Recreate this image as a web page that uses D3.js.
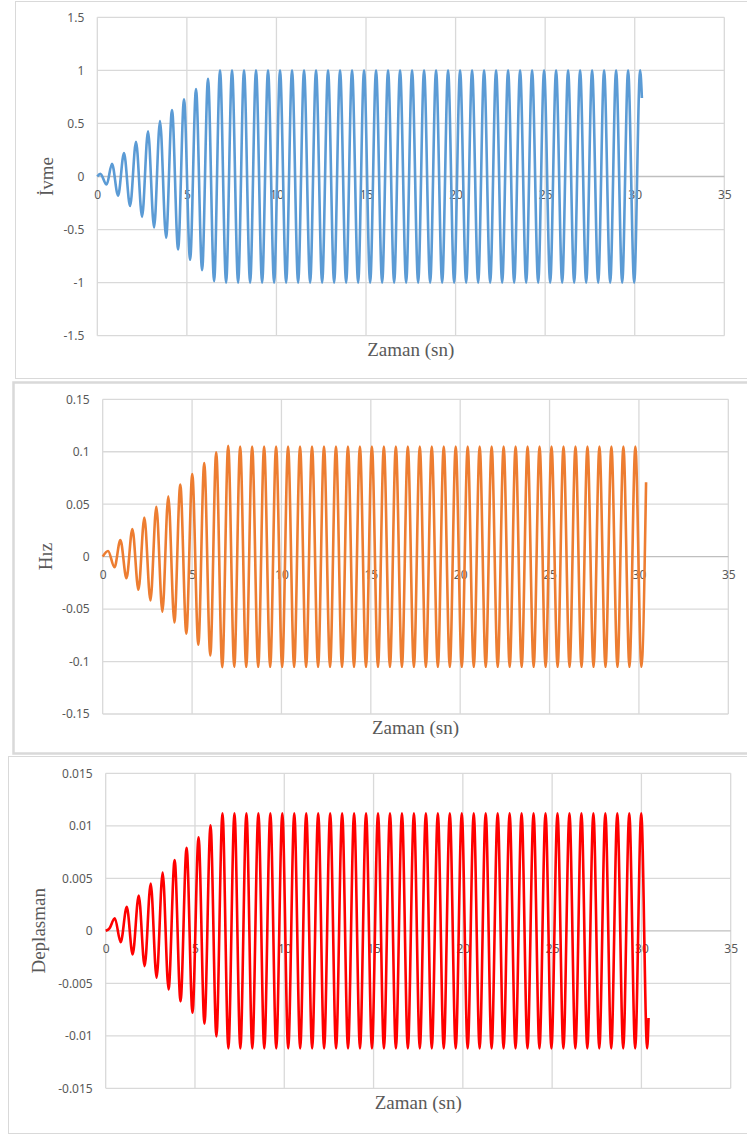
<!DOCTYPE html>
<html>
<head>
<meta charset="utf-8">
<script src="https://cdn.jsdelivr.net/npm/d3@7"></script>
<style>
    body { margin: 0; background: #fff; }
    svg { display: block; }
</style>
</head>
<body>
<svg width="747" height="1135"></svg>
<script>
// tepe ve cukur noktalari (zaman, deger)
var ivmeZaman = [0, 0.17, 0.52,
    0.82, 1.16, 1.49, 1.83, 2.16, 2.50, 2.83, 3.17, 3.50, 3.84,
    4.17, 4.51, 4.84, 5.18, 5.51, 5.85, 6.18, 6.52, 6.85, 7.19,
    7.52, 7.86, 8.19, 8.53, 8.86, 9.20, 9.53, 9.87, 10.20, 10.54,
    10.87, 11.21, 11.54, 11.88, 12.21, 12.55, 12.88, 13.22, 13.55, 13.89,
    14.22, 14.56, 14.89, 15.23, 15.56, 15.90, 16.23, 16.57, 16.90, 17.24,
    17.57, 17.91, 18.24, 18.58, 18.91, 19.25, 19.58, 19.92, 20.25, 20.59,
    20.92, 21.26, 21.59, 21.93, 22.26, 22.60, 22.93, 23.27, 23.60, 23.94,
    24.27, 24.61, 24.94, 25.28, 25.61, 25.95, 26.28, 26.62, 26.95, 27.29,
    27.62, 27.96, 28.29, 28.63, 28.96, 29.30, 29.63, 29.97, 30.30,
    30.40];
var ivmeDeger = [0, 0.025, -0.076,
    0.12, -0.18, 0.22, -0.278, 0.326, -0.38, 0.427, -0.48, 0.522, -0.576,
    0.627, -0.687, 0.728, -0.785, 0.823, -0.883, 0.92, -0.987, 1, -1,
    1, -1, 1, -1, 1, -1, 1, -1, 1, -1,
    1, -1, 1, -1, 1, -1, 1, -1, 1, -1,
    1, -1, 1, -1, 1, -1, 1, -1, 1, -1,
    1, -1, 1, -1, 1, -1, 1, -1, 1, -1,
    1, -1, 1, -1, 1, -1, 1, -1, 1, -1,
    1, -1, 1, -1, 1, -1, 1, -1, 1, -1,
    1, -1, 1, -1, 1, -1, 1, -1, 1,
    0.74];

var hizZaman = [0, 0.30,
    0.66, 0.99, 1.33, 1.66, 2.00, 2.33, 2.67, 3.00, 3.34, 3.67,
    4.01, 4.34, 4.68, 5.01, 5.35, 5.68, 6.02, 6.35, 6.69, 7.02,
    7.36, 7.69, 8.03, 8.36, 8.70, 9.03, 9.37, 9.70, 10.04, 10.37,
    10.71, 11.04, 11.38, 11.71, 12.05, 12.38, 12.72, 13.05, 13.39, 13.72,
    14.06, 14.39, 14.73, 15.06, 15.40, 15.73, 16.07, 16.40, 16.74, 17.07,
    17.41, 17.74, 18.08, 18.41, 18.75, 19.08, 19.42, 19.75, 20.09, 20.42,
    20.76, 21.09, 21.43, 21.76, 22.10, 22.43, 22.77, 23.10, 23.44, 23.77,
    24.11, 24.44, 24.78, 25.11, 25.45, 25.78, 26.12, 26.45, 26.79, 27.12,
    27.46, 27.79, 28.13, 28.46, 28.80, 29.13, 29.47, 29.80, 30.14,
    30.40];
var hizDeger = [0, 0.0054,
    -0.0101, 0.0158, -0.0206, 0.0263, -0.0316, 0.0373, -0.0418, 0.0475, -0.0525, 0.0576,
    -0.0627, 0.0687, -0.0734, 0.0788, -0.0839, 0.0892, -0.0943, 0.0994, -0.1054, 0.1057,
    -0.105, 0.105, -0.105, 0.105, -0.105, 0.105, -0.105, 0.105, -0.105, 0.105,
    -0.105, 0.105, -0.105, 0.105, -0.105, 0.105, -0.105, 0.105, -0.105, 0.105,
    -0.105, 0.105, -0.105, 0.105, -0.105, 0.105, -0.105, 0.105, -0.105, 0.105,
    -0.105, 0.105, -0.105, 0.105, -0.105, 0.105, -0.105, 0.105, -0.105, 0.105,
    -0.105, 0.105, -0.105, 0.105, -0.105, 0.105, -0.105, 0.105, -0.105, 0.105,
    -0.105, 0.105, -0.105, 0.105, -0.105, 0.105, -0.105, 0.105, -0.105, 0.105,
    -0.105, 0.105, -0.105, 0.105, -0.105, 0.105, -0.105, 0.105, -0.105,
    0.071];

var deplasmanZaman = [0, 0.2,
    0.51, 0.84, 1.18, 1.51, 1.85, 2.18, 2.52, 2.85, 3.19, 3.52,
    3.86, 4.19, 4.53, 4.86, 5.20, 5.53, 5.87, 6.20, 6.54, 6.87,
    7.21, 7.54, 7.88, 8.21, 8.55, 8.88, 9.22, 9.55, 9.89, 10.22,
    10.56, 10.89, 11.23, 11.56, 11.90, 12.23, 12.57, 12.90, 13.24, 13.57,
    13.91, 14.24, 14.58, 14.91, 15.25, 15.58, 15.92, 16.25, 16.59, 16.92,
    17.26, 17.59, 17.93, 18.26, 18.60, 18.93, 19.27, 19.60, 19.94, 20.27,
    20.61, 20.94, 21.28, 21.61, 21.95, 22.28, 22.62, 22.95, 23.29, 23.62,
    23.96, 24.29, 24.63, 24.96, 25.30, 25.63, 25.97, 26.30, 26.64, 26.97,
    27.31, 27.64, 27.98, 28.31, 28.65, 28.98, 29.32, 29.65, 29.99, 30.32,
    30.40];
var deplasmanDeger = [0, 0.0002,
    0.0012, -0.00108, 0.00228, -0.00225, 0.00336, -0.00336, 0.0045, -0.00447, 0.00555, -0.00558,
    0.00675, -0.00672, 0.0079, -0.0078, 0.0089, -0.00884, 0.01005, -0.01005, 0.0112, -0.0112,
    0.0112, -0.0112, 0.0112, -0.0112, 0.0112, -0.0112, 0.0112, -0.0112, 0.0112, -0.0112,
    0.0112, -0.0112, 0.0112, -0.0112, 0.0112, -0.0112, 0.0112, -0.0112, 0.0112, -0.0112,
    0.0112, -0.0112, 0.0112, -0.0112, 0.0112, -0.0112, 0.0112, -0.0112, 0.0112, -0.0112,
    0.0112, -0.0112, 0.0112, -0.0112, 0.0112, -0.0112, 0.0112, -0.0112, 0.0112, -0.0112,
    0.0112, -0.0112, 0.0112, -0.0112, 0.0112, -0.0112, 0.0112, -0.0112, 0.0112, -0.0112,
    0.0112, -0.0112, 0.0112, -0.0112, 0.0112, -0.0112, 0.0112, -0.0112, 0.0112, -0.0112,
    0.0112, -0.0112, 0.0112, -0.0112, 0.0112, -0.0112, 0.0112, -0.0112, 0.0112, -0.0112,
    -0.0083];

var xTicks = [0, 5, 10, 15, 20, 25, 30, 35];
var ivmeTicks = [-1.5, -1, -0.5, 0, 0.5, 1, 1.5];
var hizTicks = [-0.15, -0.1, -0.05, 0, 0.05, 0.1, 0.15];
var deplasmanTicks = [-0.015, -0.01, -0.005, 0, 0.005, 0.01, 0.015];


var panels = [
    { t: ivmeZaman, v: ivmeDeger, yTicks: ivmeTicks, title: "İvme", color: "#5b9bd5",
      box: [15, 1, 745, 377], left: 97.3, top: 17.3, right: 724.3, bottom: 335.7,
      titleX: 52.5, xTitleY: 356 },
    { t: hizZaman, v: hizDeger, yTicks: hizTicks, title: "Hız", color: "#ed7d31",
      box: [13, 382, 745, 371], left: 102.7, top: 399.3, right: 728.3, bottom: 714,
      titleX: 51.5, xTitleY: 734 },
    { t: deplasmanZaman, v: deplasmanDeger, yTicks: deplasmanTicks, title: "Deplasman", color: "#ff0000",
      box: [8, 756, 745, 377], left: 105.7, top: 773.3, right: 730.7, bottom: 1088.3,
      titleX: 44.5, xTitleY: 1109 }
];

var svg = d3.select("svg");

panels.forEach(function (p, idx) {
    // outer chart border
    svg.append("rect")
        .attr("x", p.box[0] + 0.5).attr("y", p.box[1] + 0.5)
        .attr("width", p.box[2]).attr("height", p.box[3])
        .attr("fill", "none")
        .attr("stroke", "#d9d9d9")
        .attr("stroke-width", idx == 1 ? 2.5 : 1);

    var x = d3.scaleLinear().domain([0, 35]).range([p.left, p.right]);
    var y = d3.scaleLinear().domain([p.yTicks[0], p.yTicks[p.yTicks.length - 1]]).range([p.bottom, p.top]);

    var g = svg.append("g");

    // vertical gridlines
    g.append("g")
        .selectAll("line")
        .data(xTicks)
        .enter()
        .append("line")
        .attr("x1", function (d) { return x(d); })
        .attr("x2", function (d) { return x(d); })
        .attr("y1", p.top).attr("y2", p.bottom)
        .attr("stroke", "#d9d9d9").attr("stroke-width", 1.3);

    // horizontal gridlines
    g.append("g")
        .selectAll("line")
        .data(p.yTicks)
        .enter()
        .append("line")
        .attr("x1", p.left).attr("x2", p.right)
        .attr("y1", function (d) { return y(d); })
        .attr("y2", function (d) { return y(d); })
        .attr("stroke", function (d) { return d === 0 ? "#bfbfbf" : "#d9d9d9"; })
        .attr("stroke-width", 1.3);

    // y axis labels
    var yAxis = d3.axisLeft(y)
        .tickValues(p.yTicks)
        .tickSize(0)
        .tickPadding(13)
        .tickFormat(function (d) { return String(+d.toFixed(4)); });
    g.append("g")
        .attr("transform", "translate(" + p.left + ",0)")
        .call(yAxis)
        .call(function (a) { a.select(".domain").remove(); })
        .selectAll("text")
        .attr("fill", "#595959")
        .style("font-family", "'Noto Sans', sans-serif")
        .style("font-size", "12px");

    // x axis labels sit under the zero line
    var xAxis = d3.axisBottom(x)
        .tickValues(xTicks)
        .tickSize(0)
        .tickPadding(14)
        .tickFormat(d3.format("d"));
    g.append("g")
        .attr("transform", "translate(0," + y(0) + ")")
        .call(xAxis)
        .call(function (a) { a.select(".domain").remove(); })
        .selectAll("text")
        .attr("fill", "#595959")
        .style("font-family", "'Noto Sans', sans-serif")
        .style("font-size", "12px");

    // series
    var pts = p.t.map(function (d, i) { return [d, p.v[i]]; });
    var line = d3.line()
        .x(function (d) { return x(d[0]); })
        .y(function (d) { return y(d[1]); })
        .curve(d3.curveMonotoneX);
    g.append("path")
        .datum(pts)
        .attr("d", line)
        .attr("fill", "none")
        .attr("stroke", p.color)
        .attr("stroke-width", 2.6)
        .attr("stroke-linejoin", "round");

    // axis titles
    g.append("text")
        .attr("x", (p.left + p.right) / 2)
        .attr("y", p.xTitleY)
        .attr("text-anchor", "middle")
        .attr("fill", "#595959")
        .style("font-family", "'Liberation Serif', serif")
        .style("font-size", "19px")
        .text("Zaman (sn)");

    g.append("text")
        .attr("transform", "translate(" + p.titleX + "," + (p.top + p.bottom) / 2 + ") rotate(-90)")
        .attr("text-anchor", "middle")
        .attr("fill", "#595959")
        .style("font-family", "'Liberation Serif', serif")
        .style("font-size", "19px")
        .text(p.title);
});
</script>
</body>
</html>
